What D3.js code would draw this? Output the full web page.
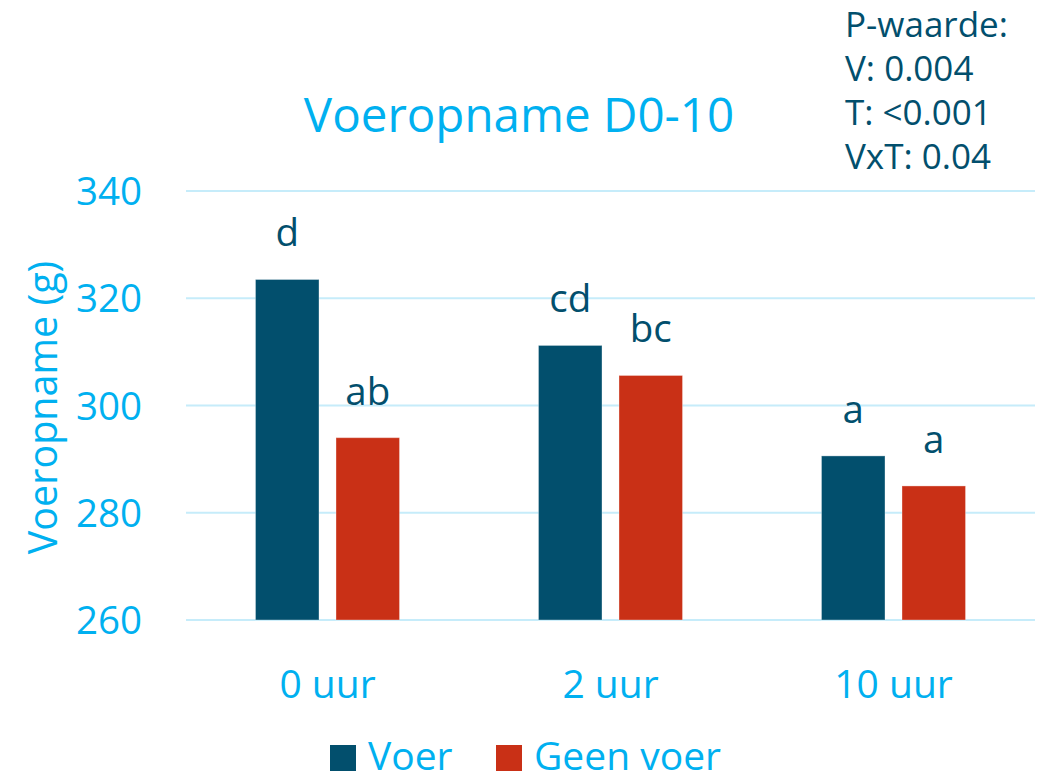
<!DOCTYPE html>
<html>
<head>
<meta charset="utf-8">
<script src="https://cdn.jsdelivr.net/npm/d3@7"></script>
<style>
  body { margin: 0; background: #fff; }
  svg text { font-family: "Open Sans", "Noto Sans", sans-serif; }
</style>
</head>
<body>
<svg id="chart" width="1043" height="782"></svg>
<script>
// chart data
const categories = ["0 uur", "2 uur", "10 uur"];
const seriesNames = ["Voer", "Geen voer"];
const voerValues = [323.5, 311.2, 290.6];
const geenVoerValues = [294.0, 305.6, 285.0];
const voerLetters = ["d", "cd", "a"];
const geenVoerLetters = ["ab", "bc", "a"];
const yTicks = [260, 280, 300, 320, 340];
const pValueLines = ["P-waarde:", "V: 0.004", "T: <0.001", "VxT: 0.04"];

const lightBlue = "#00b0f0";
const darkBlue = "#024f6d";
const red = "#c93016";
const gridColor = "#c6ecfa";

let svg = d3.select("#chart");

const plot = { left: 186, right: 1035, top: 191, bottom: 620 };

let x0 = d3.scaleBand()
  .domain(categories)
  .range([plot.left, plot.right])
  .paddingInner(0.491)
  .paddingOuter(0.2455);

let x1 = d3.scaleBand()
  .domain(seriesNames)
  .range([0, x0.bandwidth()])
  .paddingInner(0.211);

let y = d3.scaleLinear()
  .domain([260, 340])
  .range([plot.bottom, plot.top]);

const colors = d3.scaleOrdinal().domain(seriesNames).range([darkBlue, red]);

// gridlines
svg.append("g")
  .selectAll("line")
  .data(yTicks)
  .join("line")
    .attr("x1", plot.left)
    .attr("x2", plot.right)
    .attr("y1", d => y(d))
    .attr("y2", d => y(d))
    .attr("stroke", gridColor)
    .attr("stroke-width", 2);

// y tick labels
svg.append("g")
  .selectAll("text")
  .data(yTicks)
  .join("text")
    .attr("x", 142)
    .attr("y", d => y(d) + 14)
    .attr("text-anchor", "end")
    .attr("fill", lightBlue)
    .attr("font-size", 38.5)
    .text(d => d);

// y axis title
svg.append("text")
  .attr("transform", `translate(57,${(plot.top + plot.bottom) / 2 + 2}) rotate(-90)`)
  .attr("text-anchor", "middle")
  .attr("fill", lightBlue)
  .attr("font-size", 39.5)
  .text("Voeropname (g)");

// chart title
svg.append("text")
  .attr("x", 519)
  .attr("y", 132)
  .attr("text-anchor", "middle")
  .attr("fill", lightBlue)
  .attr("font-size", 47.5)
  .text("Voeropname D0-10");

// bars
const rows = categories.map((c, i) => ({
  category: c,
  values: [
    { series: "Voer", value: voerValues[i], letter: voerLetters[i] },
    { series: "Geen voer", value: geenVoerValues[i], letter: geenVoerLetters[i] }
  ]
}));

let groups = svg.append("g")
  .selectAll("g")
  .data(rows)
  .join("g")
    .attr("transform", d => `translate(${x0(d.category)},0)`);

groups.selectAll("rect")
  .data(d => d.values)
  .join("rect")
    .attr("x", d => x1(d.series))
    .attr("y", d => y(d.value))
    .attr("width", x1.bandwidth())
    .attr("height", d => y(260) - y(d.value))
    .attr("fill", d => colors(d.series))
    .attr("stroke", "#ffffff")
    .attr("stroke-opacity", 0.35)
    .attr("stroke-width", 1);

// significance letters
groups.selectAll("text")
  .data(d => d.values)
  .join("text")
    .attr("x", d => x1(d.series) + x1.bandwidth() / 2)
    .attr("y", d => y(d.value) - 33)
    .attr("text-anchor", "middle")
    .attr("fill", darkBlue)
    .attr("font-size", 38.5)
    .text(d => d.letter);

// category labels
svg.append("g")
  .selectAll("text")
  .data(categories)
  .join("text")
    .attr("x", d => x0(d) + x0.bandwidth() / 2)
    .attr("y", 698)
    .attr("text-anchor", "middle")
    .attr("fill", lightBlue)
    .attr("font-size", 39)
    .text(d => d);

// legend
const legendX = [330, 496];
let legend = svg.append("g")
  .selectAll("g")
  .data(seriesNames)
  .join("g")
    .attr("transform", (d, i) => `translate(${legendX[i]},745)`);

legend.append("rect")
  .attr("width", 26)
  .attr("height", 26)
  .attr("fill", d => colors(d));

legend.append("text")
  .attr("x", 38)
  .attr("y", 25)
  .attr("fill", lightBlue)
  .attr("font-size", 39)
  .text(d => d);

// p-value box
svg.append("g")
  .selectAll("text")
  .data(pValueLines)
  .join("text")
    .attr("x", 845)
    .attr("y", (d, i) => 37 + i * 44)
    .attr("fill", darkBlue)
    .attr("font-size", 35)
    .text(d => d);
</script>
</body>
</html>
